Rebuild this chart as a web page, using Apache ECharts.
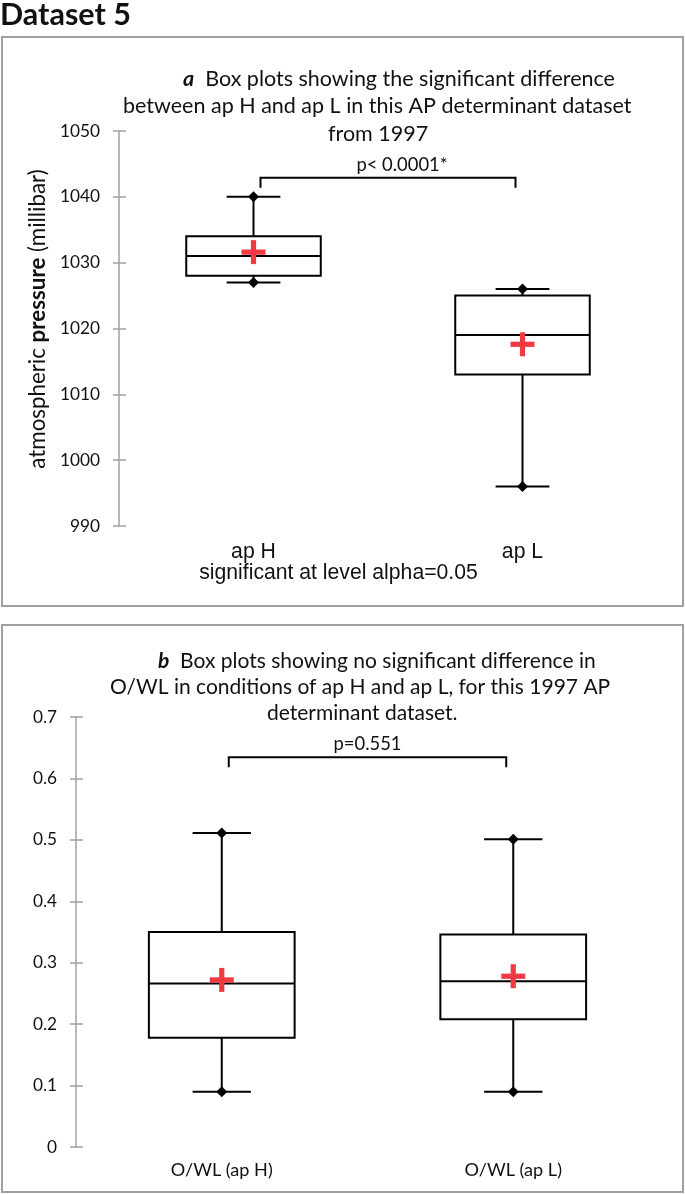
<!DOCTYPE html>
<html><head><meta charset="utf-8">
<script src="https://cdn.jsdelivr.net/npm/echarts@6/dist/echarts.min.js"></script>
<style>html,body{margin:0;padding:0;background:#fff}#c{width:685px;height:1194px}</style>
</head><body><div id="c"></div>
<script>
// ---------- data: panel a ----------
const catsA = ['ap H', 'ap L'];
const minA  = [1027, 996];
const q1A   = [1028, 1013];
const medA  = [1031, 1019];
const q3A   = [1034, 1025];
const maxA  = [1040, 1026];
const meanA = [1031.6, 1017.6];
const yMinA = 990, yMaxA = 1050, yStepA = 10;
const bracketA = [0, 1, 1042.9];
const pTextA = 'p< 0.0001*';

// ---------- data: panel b ----------
const catsB = ['O/WL (ap H)', 'O/WL (ap L)'];
const minB  = [0.09, 0.09];
const q1B   = [0.178, 0.208];
const medB  = [0.266, 0.270];
const q3B   = [0.350, 0.346];
const maxB  = [0.511, 0.501];
const meanB = [0.272, 0.278];
const yMinB = 0, yMaxB = 0.7, yStepB = 0.1;
const bracketB = [0, 1, 0.6345];
const pTextB = 'p=0.551';

// ---------- helpers ----------
const FAM = 'Lato';
const ctx = document.createElement('canvas').getContext('2d');
function fit(text, weight, family, target) {
  ctx.font = weight + ' 100px ' + family;
  return 100 * target / ctx.measureText(text).width;
}
const titleA2 = 'between ap H and ap L in this AP determinant dataset';
const titleB2 = 'O/WL in conditions of ap H and ap L, for this 1997 AP';
const fsTA = fit(titleA2, 'normal', FAM, 508);
const fsTB = fit(titleB2, 'normal', FAM, 500);
const fsTick = fit('1050', 'normal', FAM, 40);
const fsP = fit(pTextA, 'normal', FAM, 91);
const fsXB = fit(catsB[0], 'normal', FAM, 102);
const fsXA = fit('significant at level alpha=0.05', 'normal', 'Liberation Sans', 279);
const fsDS = fit('Dataset 5', 'bold', FAM, 131);
const yName = 'atmospheric pressure (millibar)';
const fsYN = fit(yName, 'normal', FAM, 298);

const GRAY = '#A0A0A0';
const RED = '#F03A42';
const INK = '#111';

function boxRender(params, api) {
  const x = api.value(0);
  const c = v => api.coord([x, v]);
  const pMin = c(api.value(1)), pQ1 = c(api.value(2)), pMed = c(api.value(3)),
        pQ3 = c(api.value(4)), pMax = c(api.value(5)), pMean = c(api.value(6));
  const band = api.size([1, 0])[0];
  const bw = band * 0.5, cw = band * 0.2;
  const cx = pMed[0];
  const ls = {stroke: '#000', lineWidth: 2};
  const line = (x1, y1, x2, y2) => ({type: 'line', shape: {x1, y1, x2, y2}, style: ls});
  const d = 5.5;
  const diamond = (px, py) => ({type: 'polygon', shape: {points: [[px, py - d], [px + d, py], [px, py + d], [px - d, py]]}, style: {fill: '#000'}});
  const cs = 12, ct = 2.6;
  return {type: 'group', children: [
    line(cx, pQ3[1], cx, pMax[1]),
    line(cx, pQ1[1], cx, pMin[1]),
    line(cx - cw / 2, pMax[1], cx + cw / 2, pMax[1]),
    line(cx - cw / 2, pMin[1], cx + cw / 2, pMin[1]),
    {type: 'rect', shape: {x: cx - bw / 2, y: pQ3[1], width: bw, height: pQ1[1] - pQ3[1]}, style: {fill: '#fff', stroke: '#000', lineWidth: 2}},
    line(cx - bw / 2, pMed[1], cx + bw / 2, pMed[1]),
    diamond(cx, pMax[1]),
    diamond(cx, pMin[1]),
    {type: 'rect', shape: {x: pMean[0] - cs, y: pMean[1] - ct, width: cs * 2, height: ct * 2}, style: {fill: RED}},
    {type: 'rect', shape: {x: pMean[0] - ct, y: pMean[1] - cs, width: ct * 2, height: cs * 2}, style: {fill: RED}}
  ]};
}

function bracketRender(label, dx, dy) {
  return function (params, api) {
    const p1 = api.coord([api.value(0), api.value(2)]);
    const p2 = api.coord([api.value(1), api.value(2)]);
    const inset = 7, drop = 10;
    const x1 = p1[0] + inset, x2 = p2[0] - inset, y = p1[1];
    return {type: 'group', children: [
      {type: 'polyline', shape: {points: [[x1, y + drop], [x1, y], [x2, y], [x2, y + drop]]}, style: {stroke: '#000', lineWidth: 2, fill: null}},
      {type: 'text', x: (x1 + x2) / 2 + dx, y: y - dy, style: {text: label, fill: INK, font: fsP.toFixed(1) + 'px ' + FAM, align: 'center', verticalAlign: 'middle'}}
    ]};
  };
}

const yAxisBase = (min, max, step, grid) => ({
  type: 'value', gridIndex: grid, min, max, interval: step, position: 'left',
  axisLine: {show: true, lineStyle: {color: GRAY, width: 1.5}},
  axisTick: {show: true, length: 6, lineStyle: {color: GRAY, width: 1.5}},
  splitLine: {show: false},
  axisLabel: {color: INK, fontFamily: FAM, fontSize: fsTick, margin: 19, formatter: v => String(v)}
});
const yAxisInner = (min, max, step, grid) => ({
  type: 'value', gridIndex: grid, min, max, interval: step, position: 'left',
  axisLine: {show: false},
  axisTick: {show: true, inside: true, length: 7, lineStyle: {color: GRAY, width: 1.5}},
  splitLine: {show: false},
  axisLabel: {show: false}
});

const chart = echarts.init(document.getElementById('c'), null, {renderer: 'canvas'});
chart.setOption({
  animation: false,
  backgroundColor: '#fff',
  grid: [
    {left: 119, top: 131, width: 538, height: 395},
    {left: 76, top: 717, width: 583, height: 430}
  ],
  xAxis: [
    {type: 'category', gridIndex: 0, data: catsA, axisLine: {show: false}, axisTick: {show: false},
     axisLabel: {color: INK, fontFamily: 'Liberation Sans', fontSize: fsXA, margin: 16}},
    {type: 'category', gridIndex: 1, data: catsB, axisLine: {show: false}, axisTick: {show: false},
     axisLabel: {color: INK, fontFamily: FAM, fontSize: fsXB, margin: 14}}
  ],
  yAxis: [
    yAxisBase(yMinA, yMaxA, yStepA, 0),
    yAxisInner(yMinA, yMaxA, yStepA, 0),
    yAxisBase(yMinB, yMaxB, yStepB, 1),
    yAxisInner(yMinB, yMaxB, yStepB, 1)
  ],
  graphic: [
    {type: 'rect', shape: {x: 2, y: 37, width: 681, height: 569}, style: {fill: null, stroke: GRAY, lineWidth: 2}, z: -1},
    {type: 'rect', shape: {x: 2, y: 625, width: 681, height: 567}, style: {fill: null, stroke: GRAY, lineWidth: 2}, z: -1},
    {type: 'text', x: 0, y: 15, style: {text: 'Dataset 5', font: 'bold ' + fsDS.toFixed(1) + 'px ' + FAM, fill: INK, verticalAlign: 'middle'}},
    {type: 'text', x: 183, y: 79, style: {text: '{i|a}  Box plots showing the significant difference', font: fsTA.toFixed(1) + 'px ' + FAM, fill: INK, verticalAlign: 'middle',
      rich: {i: {fontStyle: 'italic', fontWeight: 'bold', fontSize: fsTA, fontFamily: FAM}}}},
    {type: 'text', x: 123, y: 106, style: {text: titleA2, font: fsTA.toFixed(1) + 'px ' + FAM, fill: INK, verticalAlign: 'middle'}},
    {type: 'text', x: 328, y: 134, style: {text: 'from 1997', font: fsTA.toFixed(1) + 'px ' + FAM, fill: INK, verticalAlign: 'middle'}},
    {type: 'text', x: 38, y: 319, rotation: Math.PI / 2, style: {text: '{n|atmospheric }{b|pressure}{n| (millibar)}', align: 'center', verticalAlign: 'middle',
      rich: {n: {fontSize: fsYN, fontFamily: FAM, fill: INK}, b: {fontSize: fsYN, fontFamily: FAM, fontWeight: 'bold', fill: INK}}}},
    {type: 'text', x: 338.5, y: 573, style: {text: 'significant at level alpha=0.05', font: fsXA.toFixed(1) + 'px Liberation Sans', fill: INK, align: 'center', verticalAlign: 'middle'}},
    {type: 'text', x: 158, y: 661, style: {text: '{i|b}  Box plots showing no significant difference in', font: fsTB.toFixed(1) + 'px ' + FAM, fill: INK, verticalAlign: 'middle',
      rich: {i: {fontStyle: 'italic', fontWeight: 'bold', fontSize: fsTB, fontFamily: FAM}}}},
    {type: 'text', x: 110, y: 687, style: {text: titleB2, font: fsTB.toFixed(1) + 'px ' + FAM, fill: INK, verticalAlign: 'middle'}},
    {type: 'text', x: 267, y: 713, style: {text: 'determinant dataset.', font: fsTB.toFixed(1) + 'px ' + FAM, fill: INK, verticalAlign: 'middle'}}
  ],
  series: [
    {type: 'custom', name: 'a', xAxisIndex: 0, yAxisIndex: 0, renderItem: boxRender,
     encode: {x: 0, y: [1, 2, 3, 4, 5, 6]},
     data: catsA.map((c, i) => [i, minA[i], q1A[i], medA[i], q3A[i], maxA[i], meanA[i]])},
    {type: 'custom', name: 'b', xAxisIndex: 1, yAxisIndex: 2, renderItem: boxRender,
     encode: {x: 0, y: [1, 2, 3, 4, 5, 6]},
     data: catsB.map((c, i) => [i, minB[i], q1B[i], medB[i], q3B[i], maxB[i], meanB[i]])},
    {type: 'custom', xAxisIndex: 0, yAxisIndex: 0, renderItem: bracketRender(pTextA, 14, 13),
     encode: {x: [0, 1], y: 2}, data: [bracketA]},
    {type: 'custom', xAxisIndex: 1, yAxisIndex: 2, renderItem: bracketRender(pTextB, 0, 13),
     encode: {x: [0, 1], y: 2}, data: [bracketB]}
  ]
});
</script></body></html>
